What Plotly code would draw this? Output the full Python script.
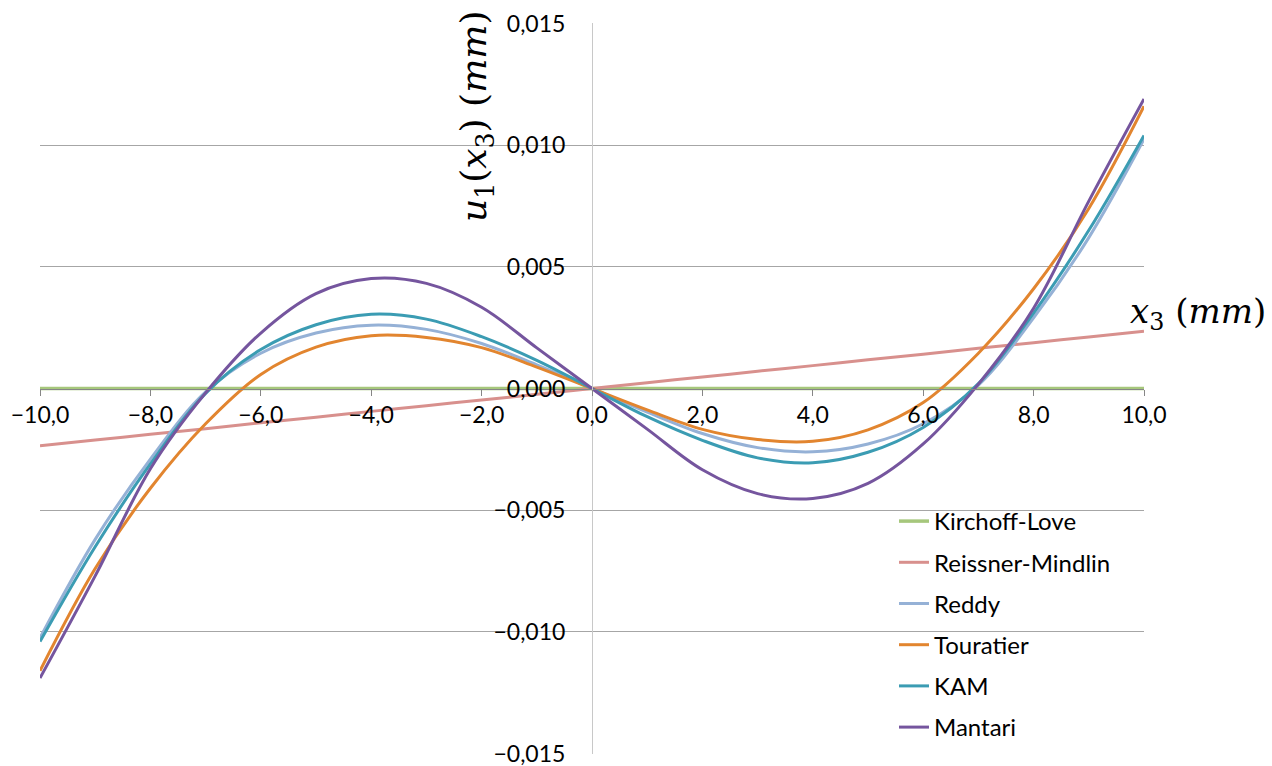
import plotly.graph_objects as go

x3 = [-10, -9, -8, -7, -6, -5, -4, -3, -2, -1, 0, 1, 2, 3, 4, 5, 6, 7, 8, 9, 10]
x_ticks = [-10, -8, -6, -4, -2, 0, 2, 4, 6, 8, 10]
y_ticks = [-0.015, -0.010, -0.005, 0.0, 0.005, 0.010, 0.015]

kirchhoff = [0.0] * 21
reissner = [-0.00235, -0.00212, -0.00188, -0.00165, -0.00141, -0.00118, -0.00094, -0.00071, -0.00047, -0.00024, 0.0,
            0.00024, 0.00047, 0.00071, 0.00094, 0.00118, 0.00141, 0.00165, 0.00188, 0.00212, 0.00235]
reddy = [-0.01025, -0.0062, -0.0029, -0.00014, 0.00145, 0.00228, 0.00260, 0.00243, 0.00185, 0.00097, 0.0,
         -0.00097, -0.00185, -0.00243, -0.00260, -0.00228, -0.00145, 0.00014, 0.0029, 0.0062, 0.01025]
touratier = [-0.01160, -0.0074, -0.0041, -0.00145, 0.00058, 0.00170, 0.00217, 0.00210, 0.00168, 0.00088, 0.0,
             -0.00088, -0.00168, -0.00210, -0.00217, -0.00170, -0.00058, 0.00145, 0.0041, 0.0074, 0.01160]
kam = [-0.0104, -0.0065, -0.0031, -0.00020, 0.00160, 0.00262, 0.00305, 0.00285, 0.00213, 0.00116, 0.0,
       -0.00116, -0.00213, -0.00285, -0.00305, -0.00262, -0.00160, 0.00020, 0.0031, 0.0065, 0.0104]
mantari = [-0.0119, -0.0077, -0.0033, -0.00018, 0.00228, 0.00390, 0.00452, 0.00432, 0.00334, 0.00167, 0.0,
           -0.00167, -0.00334, -0.00432, -0.00452, -0.00390, -0.00228, 0.00018, 0.0033, 0.0077, 0.0119]

series = [
    ("Kirchoff-Love", kirchhoff, "#A6C77C", 3.5),
    ("Reissner-Mindlin", reissner, "#D8908D", 3),
    ("Reddy", reddy, "#95B1D6", 3),
    ("Touratier", touratier, "#E2852F", 3),
    ("KAM", kam, "#3B9CB3", 3),
    ("Mantari", mantari, "#75559E", 3),
]

W, H = 1272, 766
L, R, T, B = 40, 128, 23, 12
pw, ph = W - L - R, H - T - B

def px_x(p):
    return (p - L) / pw

def px_y(p):
    return 1 - (p - T) / ph

fig = go.Figure()
for i, (name, ys, col, w) in enumerate(series):
    fig.add_trace(go.Scatter(
        x=x3, y=ys, name=name, mode="lines",
        line=dict(color=col, width=w, shape="spline", smoothing=1.0),
        legendgroup=f"g{i}",
    ))

fig.add_shape(type="rect", xref="paper", yref="paper",
              x0=px_x(852), x1=1.0, y0=-0.01, y1=px_y(497),
              fillcolor="white", line=dict(width=0), layer="between")

fig.add_annotation(
    text="<i>u</i><sub>1</sub>(<i>x</i><sub>3</sub>) (<i>mm</i>)",
    xref="paper", yref="paper", x=px_x(476), y=px_y(117),
    textangle=-90, showarrow=False, xanchor="center", yanchor="middle",
    font=dict(family="DejaVu Serif", size=36, color="black"),
)
fig.add_annotation(
    text="<i>x</i><sub>3</sub> (<i>mm</i>)",
    xref="paper", yref="paper", x=px_x(1268), y=px_y(313),
    showarrow=False, xanchor="right", yanchor="middle",
    font=dict(family="DejaVu Serif", size=34, color="black"),
)

fig.update_layout(
    width=W, height=H,
    margin=dict(l=L, r=R, t=T, b=B, autoexpand=False),
    paper_bgcolor="white", plot_bgcolor="white",
    separators=",.",
    font=dict(family="Lato", size=23, color="black"),
    showlegend=True,
    legend=dict(
        x=px_x(894), y=px_y(499), xanchor="left", yanchor="top",
        bgcolor="rgba(255,255,255,0)", borderwidth=0,
        font=dict(family="Lato", size=24, color="black"),
        tracegroupgap=7,
    ),
    xaxis=dict(
        range=[-10, 10], tickmode="array", tickvals=x_ticks, tickformat=".1f",
        anchor="free", position=0.5, automargin=False,
        showgrid=False, zeroline=False,
        showline=True, linecolor="#868686", linewidth=1,
        ticks="outside", ticklen=6, tickcolor="#868686",
        tickfont=dict(family="Lato", size=23),
    ),
    yaxis=dict(
        range=[-0.01502, 0.01502], tickmode="array", tickvals=y_ticks, tickformat=".3f",
        anchor="free", position=0.5, automargin=False,
        ticklabeloverflow="allow",
        showgrid=True, gridcolor="#A6A6A6", gridwidth=1,
        zeroline=False,
        showline=True, linecolor="#C8C8C8", linewidth=1,
        ticks="outside", ticklen=22, tickcolor="rgba(0,0,0,0)",
        tickfont=dict(family="Lato", size=23),
    ),
)

fig.write_html("out.html")
